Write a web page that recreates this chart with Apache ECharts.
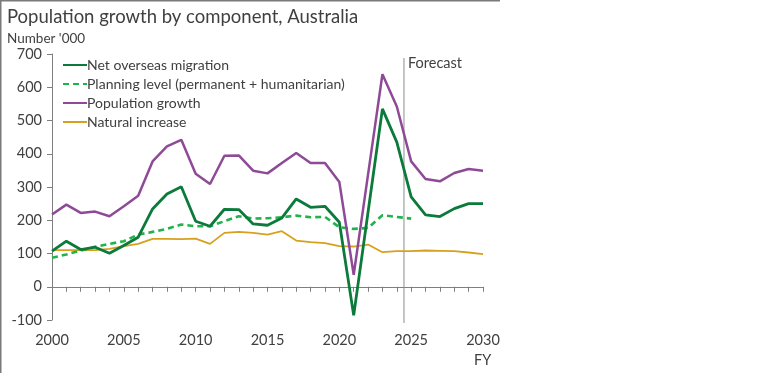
<!DOCTYPE html>
<html>
<head>
<meta charset="utf-8">
<script src="https://cdn.jsdelivr.net/npm/echarts@6/dist/echarts.min.js"></script>
<style>
html,body{margin:0;padding:0;background:#fff;}
#chart{width:778px;height:392px;}
</style>
</head>
<body>
<div id="chart"></div>
<script>
const years = [2000,2001,2002,2003,2004,2005,2006,2007,2008,2009,2010,2011,2012,2013,2014,2015,2016,2017,2018,2019,2020,2021,2022,2023,2024,2025,2026,2027,2028,2029,2030];
const netOverseasMigration = [107,137,112,119,101,124,149,234,279,301,197,182,233,232,189,185,207,264,239,242,194,-86,225,535,435,270,216,211,235,250,250];
const planningLevel = [87,97,109,120,129,137,157,165,174,187,182,182,197,212,205,206,209,214,209,210,179,174,177,215,210,205];
const populationGrowth = [217,247,222,226,212,242,274,377,422,442,340,309,394,395,349,341,372,402,372,372,315,36,338,639,542,377,324,317,342,354,349];
const naturalIncrease = [110,110,110,110,114,122,129,144,144,143,145,129,162,165,162,157,167,139,134,131,122,121,127,104,107,107,109,108,107,103,98];
const yTicks = [-100,0,100,200,300,400,500,600,700];
const forecastStart = 2024.5;

function pairs(vals){ return vals.map((v,i)=>[years[i], v]); }

const font = "Lato, 'Open Sans', sans-serif";
const textColor = '#404040';
const chart = echarts.init(document.getElementById('chart'));

const option = {
  animation: false,
  backgroundColor: '#fff',
  textStyle: {fontFamily: font},
  title: [
    {text: 'Population growth by component, Australia', left: 2, top: 3,
     textStyle: {fontFamily: font, fontSize: 18.5, fontWeight: 'normal', color: textColor}},
    {text: "Number '000", left: 2, top: 27,
     textStyle: {fontFamily: font, fontSize: 13.5, fontWeight: 'normal', color: textColor}}
  ],
  legend: {
    orient: 'vertical', left: 57, top: 53, itemGap: 5, itemWidth: 24, itemHeight: 14,
    itemStyle: {opacity: 0},
    textStyle: {fontFamily: font, fontSize: 14, color: textColor, padding: [0,0,0,-5]},
    data: ['Net overseas migration','Planning level (permanent + humanitarian)','Population growth','Natural increase']
  },
  grid: {left: 52, right: 295, top: 54, bottom: 72, containLabel: false},
  xAxis: [
    {type: 'value', min: 2000, max: 2030, interval: 1,
     axisLine: {onZero: true, lineStyle: {color: '#7f7f7f', width: 1}},
     axisTick: {show: true, length: 5, lineStyle: {color: '#7f7f7f'}},
     axisLabel: {show: false}, splitLine: {show: false}},
    {type: 'value', min: 2000, max: 2030, interval: 5, position: 'bottom',
     axisLine: {show: false, onZero: false}, axisTick: {show: false},
     axisLabel: {show: true, margin: 13, fontFamily: font, fontSize: 14.5, color: textColor,
       formatter: v => String(v)},
     splitLine: {show: false}}
  ],
  yAxis: {type: 'value', min: -100, max: 700, interval: 100,
    axisLine: {show: true, lineStyle: {color: '#7f7f7f'}},
    axisTick: {show: true, length: 5, lineStyle: {color: '#7f7f7f'}},
    axisLabel: {margin: 10, fontFamily: font, fontSize: 14.5, color: textColor,
      formatter: v => yTicks.includes(v) ? String(v) : ''},
    splitLine: {show: false}},
  series: [
    {name: 'Net overseas migration', type: 'line', xAxisIndex: 0, data: pairs(netOverseasMigration),
     symbol: 'none', z: 4, lineStyle: {color: '#0b7a3a', width: 2.8}, itemStyle: {color: '#0b7a3a'}},
    {name: 'Planning level (permanent + humanitarian)', type: 'line', xAxisIndex: 0, data: pairs(planningLevel),
     symbol: 'none', z: 3, lineStyle: {color: '#22b24c', width: 2.6, type: [6,4]}, itemStyle: {color: '#22b24c'}},
    {name: 'Population growth', type: 'line', xAxisIndex: 0, data: pairs(populationGrowth),
     symbol: 'none', z: 5, lineStyle: {color: '#8e4a97', width: 2.5}, itemStyle: {color: '#8e4a97'}},
    {name: 'Natural increase', type: 'line', xAxisIndex: 0, data: pairs(naturalIncrease),
     symbol: 'none', z: 2, lineStyle: {color: '#d7a11d', width: 1.8}, itemStyle: {color: '#d7a11d'}}
  ]
};
chart.setOption(option);

const fx = chart.convertToPixel({xAxisIndex: 0}, forecastStart);
const xEnd = chart.convertToPixel({xAxisIndex: 0}, 2030);
const yBottom = chart.convertToPixel({yAxisIndex: 0}, -100);
chart.setOption({
  graphic: [
    {type: 'line', shape: {x1: fx, y1: 58, x2: fx, y2: yBottom + 3}, style: {stroke: '#8c8c8c', lineWidth: 1}, z: 1},
    {type: 'text', left: fx + 4, top: 56, style: {text: 'Forecast', font: '14.5px ' + font, fill: textColor}},
    {type: 'text', left: xEnd - 9, top: 353, style: {text: 'FY', font: '14.5px ' + font, fill: textColor}},
    {type: 'polyline', shape: {points: [[0.75, 373], [0.75, 0.75], [500, 0.75]]}, style: {stroke: '#7a7a7a', lineWidth: 1.5, fill: null}}
  ]
});
</script>
</body>
</html>
